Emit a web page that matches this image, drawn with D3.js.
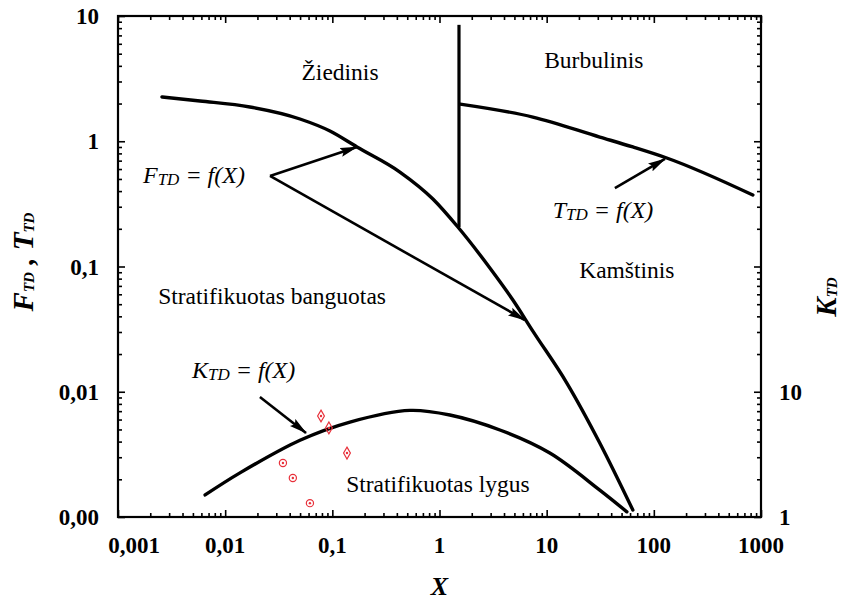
<!DOCTYPE html>
<html><head><meta charset="utf-8">
<script src="https://cdn.jsdelivr.net/npm/d3@7"></script>
<style>
body{margin:0;background:#fff}
svg{display:block}
text{font-family:"Liberation Serif","Times New Roman",serif;fill:#000}
</style>
</head><body>
<svg id="c" width="841" height="603"></svg>
<script>
// ---- axis ticks / labels ----
const xTicks = [0.001, 0.01, 0.1, 1, 10, 100, 1000];
const xTickLabels = ["0,001", "0,01", "0,1", "1", "10", "100", "1000"];
const yTicks = [0.001, 0.01, 0.1, 1, 10];
const yTickLabels = ["0,00", "0,01", "0,1", "1", "10"];
const kTicks = [1, 10];
const kTickLabels = ["1", "10"];

// ---- F_TD boundary ----
const fX = [0.00257, 0.00582, 0.0170, 0.0499, 0.0950, 0.1697, 0.427, 0.868, 1.484, 2.952, 4.84, 7.43, 15.43, 31.3, 63.7];
const fY = [2.256, 2.096, 1.877, 1.505, 1.207, 0.900, 0.568, 0.346, 0.2067, 0.0973, 0.0540, 0.0305, 0.01174, 0.0039, 0.001137];

// ---- T_TD boundary ----
const tX = [1.56, 7.43, 31.3, 63.7, 132, 839];
const tY = [1.98, 1.56, 1.08, 0.90, 0.735, 0.372];

// ---- K_TD boundary (right axis) ----
const kX = [0.0065, 0.01374, 0.0499, 0.146, 0.53, 1.25, 3.66, 10.7, 31.3, 56];
const kY = [1.5, 2.25, 4.1, 5.73, 7.1, 6.52, 4.95, 3.24, 1.64, 1.10];

// ---- vertical boundary ----
const vX = [1.52, 1.52];
const vY = [8.5, 0.2067];

// ---- red measured points ----
const ptX = [0.0784, 0.0929, 0.137, 0.0346, 0.0428, 0.0618];
const ptY = [0.0064, 0.00514, 0.00324, 0.0027, 0.00205, 0.00129];
const ptShape = ["diamond", "diamond", "diamond", "circle", "circle", "circle"];

// ---- region labels ----
const regionNames = ["Žiedinis", "Burbulinis", "Kamštinis", "Stratifikuotas banguotas", "Stratifikuotas lygus"];
const regionX = [0.118, 27.5, 56.0, 0.0274, 0.966];
const regionY = [3.08, 3.85, 0.0809, 0.0502, 0.00158];

// ---- function labels and arrows ----
const fnMain = ["F", "T", "K"];
const fnX = [0.00171, 11.4, 0.0049];
const fnY = [0.464, 0.244, 0.0129];
const arrowFromX = [0.0262, 0.0262, 43.3, 0.0211];
const arrowFromY = [0.528, 0.528, 0.423, 0.00908];
const arrowToX = [0.1697, 6.26, 127, 0.0568];
const arrowToY = [0.900, 0.0374, 0.722, 0.00469];

// ================= drawing =================
const L = 118, R = 761, T = 16, B = 517;
const svg = d3.select("#c");
const x = d3.scaleLog().domain([0.001, 1000]).range([L, R]);
const y = d3.scaleLog().domain([0.001, 10]).range([B, T]);
const yK = d3.scaleLog().domain([1, 10000]).range([B, T]);

function minors(lo, hi) {
  const out = [];
  for (let d = lo; d < hi * 0.999; d *= 10)
    for (let m = 2; m <= 9; m++) out.push(+(d * m).toPrecision(6));
  return out;
}
const xMinor = minors(0.001, 1000);
const yMinor = minors(0.001, 10);

function styleAxis(g) {
  g.select(".domain").remove();
  g.selectAll("line").attr("stroke", "#000").attr("stroke-width", 1.6);
}
svg.append("g").attr("transform", `translate(0,${B})`).call(d3.axisBottom(x).tickValues(xTicks).tickSize(-7).tickFormat("")).call(styleAxis);
svg.append("g").attr("transform", `translate(0,${B})`).call(d3.axisBottom(x).tickValues(xMinor).tickSize(-4).tickFormat("")).call(styleAxis);
svg.append("g").attr("transform", `translate(0,${T})`).call(d3.axisTop(x).tickValues(xTicks).tickSize(-7).tickFormat("")).call(styleAxis);
svg.append("g").attr("transform", `translate(0,${T})`).call(d3.axisTop(x).tickValues(xMinor).tickSize(-4).tickFormat("")).call(styleAxis);
svg.append("g").attr("transform", `translate(${L},0)`).call(d3.axisLeft(y).tickValues(yTicks).tickSize(-7).tickFormat("")).call(styleAxis);
svg.append("g").attr("transform", `translate(${L},0)`).call(d3.axisLeft(y).tickValues(yMinor).tickSize(-4).tickFormat("")).call(styleAxis);
svg.append("g").attr("transform", `translate(${R},0)`).call(d3.axisRight(y).tickValues(yTicks).tickSize(-7).tickFormat("")).call(styleAxis);
svg.append("g").attr("transform", `translate(${R},0)`).call(d3.axisRight(y).tickValues(yMinor).tickSize(-4).tickFormat("")).call(styleAxis);

svg.append("rect").attr("x", L).attr("y", T).attr("width", R - L).attr("height", B - T)
  .attr("fill", "none").attr("stroke", "#000").attr("stroke-width", 2.2);

svg.append("g").selectAll("text").data(xTicks).join("text")
  .attr("x", (d, i) => x(d) + (i === 0 ? 16 : 0))
  .attr("y", 553).attr("text-anchor", "middle")
  .attr("font-size", 23).attr("font-weight", "bold")
  .text((d, i) => xTickLabels[i]);
svg.append("g").selectAll("text").data(yTicks).join("text")
  .attr("x", 99).attr("y", d => y(d)).attr("dy", "0.35em").attr("text-anchor", "end")
  .attr("font-size", 23).attr("font-weight", "bold")
  .text((d, i) => yTickLabels[i]);
svg.append("g").selectAll("text").data(kTicks).join("text")
  .attr("x", 779).attr("y", d => yK(d)).attr("dy", "0.35em").attr("text-anchor", "start")
  .attr("font-size", 23).attr("font-weight", "bold")
  .text((d, i) => kTickLabels[i]);

svg.append("text").attr("x", x(1)).attr("y", 595).attr("text-anchor", "middle")
  .attr("font-size", 26).attr("font-weight", "bold").attr("font-style", "italic").text("X");

const lt = svg.append("text").attr("transform", "translate(33,262) rotate(-90)")
  .attr("text-anchor", "middle").attr("font-weight", "bold").attr("font-style", "italic").attr("font-size", 29);
lt.append("tspan").text("F");
lt.append("tspan").attr("font-size", 15).attr("dy", 1).text("TD");
lt.append("tspan").attr("dy", -1).text(" ,  T");
lt.append("tspan").attr("font-size", 15).attr("dy", 1).text("TD");

const rt = svg.append("text").attr("transform", "translate(836,297) rotate(-90)")
  .attr("text-anchor", "middle").attr("font-weight", "bold").attr("font-style", "italic").attr("font-size", 29);
rt.append("tspan").text("K");
rt.append("tspan").attr("font-size", 15).attr("dy", 1).text("TD");

const lineF = d3.line().x(d => x(d[0])).y(d => y(d[1])).curve(d3.curveMonotoneX);
const lineK = d3.line().x(d => x(d[0])).y(d => yK(d[1])).curve(d3.curveCatmullRom.alpha(0.5));
const curveStyle = p => p.attr("fill", "none").attr("stroke", "#000").attr("stroke-width", 3.4).attr("stroke-linecap", "round");
svg.append("path").attr("d", lineF(fX.map((v, i) => [v, fY[i]]))).call(curveStyle);
svg.append("path").attr("d", lineF(tX.map((v, i) => [v, tY[i]]))).call(curveStyle);
svg.append("path").attr("d", lineK(kX.map((v, i) => [v, kY[i]]))).call(curveStyle);
svg.append("path").attr("d", d3.line().x(d => x(d[0])).y(d => y(d[1]))(vX.map((v, i) => [v, vY[i]])))
  .attr("fill", "none").attr("stroke", "#000").attr("stroke-width", 3.2);

svg.append("defs").append("marker").attr("id", "ah")
  .attr("viewBox", "0 0 18 10").attr("refX", 17).attr("refY", 5)
  .attr("markerWidth", 18).attr("markerHeight", 10).attr("markerUnits", "userSpaceOnUse")
  .attr("orient", "auto")
  .append("path").attr("d", "M0,0.5L18,5L0,9.5L3,5Z").attr("fill", "#000");
svg.append("g").selectAll("line").data(arrowFromX).join("line")
  .attr("x1", (d, i) => x(d)).attr("y1", (d, i) => y(arrowFromY[i]))
  .attr("x2", (d, i) => x(arrowToX[i])).attr("y2", (d, i) => y(arrowToY[i]))
  .attr("stroke", "#000").attr("stroke-width", 2.6).attr("marker-end", "url(#ah)");

fnMain.forEach((m, i) => {
  const t = svg.append("text").attr("x", x(fnX[i])).attr("y", y(fnY[i]))
    .attr("font-size", 24).attr("font-style", "italic");
  t.append("tspan").text(m);
  t.append("tspan").attr("font-size", 17).attr("dy", 2).text("TD");
  t.append("tspan").attr("dy", -2).text(" = f(X)");
});

svg.append("g").selectAll("text").data(regionNames).join("text")
  .attr("x", (d, i) => x(regionX[i])).attr("y", (d, i) => y(regionY[i]))
  .attr("text-anchor", "middle").attr("font-size", 23.5).text(d => d);

const pts = svg.append("g");
ptX.forEach((v, i) => {
  const cx = x(v), cy = y(ptY[i]);
  if (ptShape[i] === "diamond") {
    pts.append("path").attr("d", d3.symbol().type(d3.symbolDiamond).size(40)())
      .attr("transform", `translate(${cx},${cy})`)
      .attr("fill", "none").attr("stroke", "#e8303a").attr("stroke-width", 1.2);
  } else {
    pts.append("circle").attr("cx", cx).attr("cy", cy).attr("r", 3.6)
      .attr("fill", "none").attr("stroke", "#e8303a").attr("stroke-width", 1.2);
  }
  pts.append("circle").attr("cx", cx).attr("cy", cy).attr("r", 1.2).attr("fill", "#e8303a");
});
</script>
</body></html>
